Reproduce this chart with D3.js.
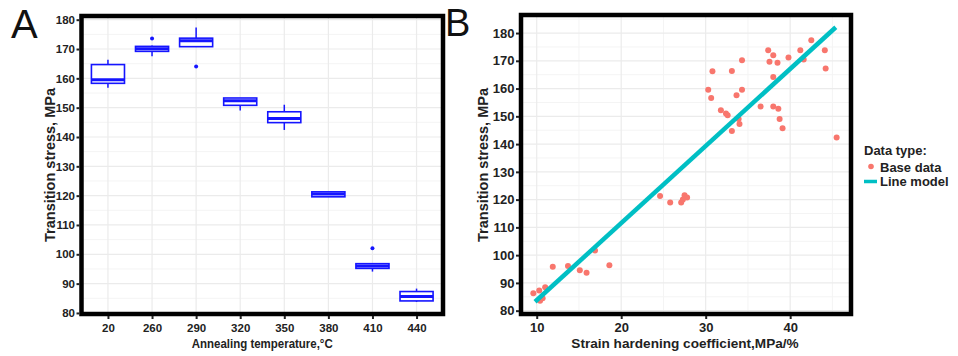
<!DOCTYPE html>
<html><head><meta charset="utf-8">
<script src="https://cdn.jsdelivr.net/npm/d3@7"></script>
<style>
html,body{margin:0;padding:0;background:#fff;}
svg{display:block;font-family:"Liberation Sans",Arial,sans-serif;}
</style></head>
<body>
<script>
// ---------- Panel A data (boxplot summaries) ----------
const tempCategories = ["20","260","290","320","350","380","410","440"];
const boxLower  = [156.8, 167.5, 170.8, 149.0, 142.4, 119.6, 94.1, 83.8];
const boxQ1     = [158.3, 169.2, 170.8, 150.8, 144.9, 119.6, 95.2, 84.1];
const boxMedian = [159.5, 170.1, 172.8, 152.4, 146.3, 120.6, 96.0, 85.6];
const boxQ3     = [164.7, 170.9, 173.7, 153.3, 148.6, 121.3, 96.8, 87.3];
const boxUpper  = [166.3, 171.2, 177.3, 153.3, 151.0, 121.3, 96.8, 88.3];
const outlierCat = ["260","290","410"];
const outlierVal = [173.6, 164.0, 102.1];
const yTicksA = [80,90,100,110,120,130,140,150,160,170,180];

// ---------- Panel B data ----------
const baseX = [30.3,30.65,30.8,31.8,32.4,32.6,33.1,33.1,33.65,33.9,34.0,34.3,34.3,36.5,37.4,37.55,38.0,38.0,38.0,38.5,38.6,38.75,39.1,39.8,41.2,41.6,42.5,44.1,44.2,45.5,
  9.6,10.3,11.0,10.4,10.7,11.9,13.7,15.1,15.9,16.9,18.6,24.6,25.8,27.1,27.5,27.8,27.3];
const baseY = [159.6,156.6,166.2,152.2,151.0,150.4,166.3,144.7,157.6,149.0,147.2,159.6,170.2,153.5,173.8,169.7,172.0,164.2,153.5,169.3,152.7,149.0,145.7,171.2,173.8,170.5,177.4,173.8,167.2,142.4,
  86.3,87.3,88.4,83.6,84.5,95.8,96.1,94.6,93.7,101.7,96.4,121.3,119.0,119.0,121.6,120.8,120.0];
const lineX = [9.8, 45.4];
const lineY = [83.2, 182.1];
const xTicksB = [10,20,30,40];
const yTicksB = [80,90,100,110,120,130,140,150,160,170,180];

const W = 958, H = 356;
const svg = d3.select("body").append("svg").attr("width", W).attr("height", H);

const gridMajor = "#ebebeb", gridMinor = "#f4f4f4";
const txt = "#222";

// ================= Panel A =================
const A = {l:81.5, r:443, t:16, b:314};
const xA = d3.scalePoint().domain(tempCategories).range([A.l, A.r]).padding(0.6);
const yA = d3.scaleLinear().domain([79.3, 181.6]).range([315, 15]);
const gA = svg.append("g");

d3.range(85, 181, 10).forEach(v => {
  gA.append("line").attr("x1",A.l).attr("x2",A.r).attr("y1",yA(v)).attr("y2",yA(v))
    .attr("stroke",gridMinor).attr("stroke-width",1);
});
yTicksA.forEach(v => {
  gA.append("line").attr("x1",A.l).attr("x2",A.r).attr("y1",yA(v)).attr("y2",yA(v))
    .attr("stroke",gridMajor).attr("stroke-width",1.2);
});
tempCategories.forEach(c => {
  gA.append("line").attr("x1",xA(c)).attr("x2",xA(c)).attr("y1",A.t).attr("y2",A.b)
    .attr("stroke",gridMajor).attr("stroke-width",1.2);
});

const bw = xA.step()*0.75;
const blue = "#1515ff";
tempCategories.forEach((c,i) => {
  const cx = xA(c);
  gA.append("line").attr("x1",cx).attr("x2",cx).attr("y1",yA(boxUpper[i])).attr("y2",yA(boxQ3[i]))
    .attr("stroke",blue).attr("stroke-width",1.5);
  gA.append("line").attr("x1",cx).attr("x2",cx).attr("y1",yA(boxQ1[i])).attr("y2",yA(boxLower[i]))
    .attr("stroke",blue).attr("stroke-width",1.5);
  gA.append("rect").attr("x",cx-bw/2).attr("width",bw)
    .attr("y",yA(boxQ3[i])).attr("height",Math.max(0.5,yA(boxQ1[i])-yA(boxQ3[i])))
    .attr("fill","#fff").attr("stroke",blue).attr("stroke-width",1.6);
  gA.append("line").attr("x1",cx-bw/2).attr("x2",cx+bw/2).attr("y1",yA(boxMedian[i])).attr("y2",yA(boxMedian[i]))
    .attr("stroke",blue).attr("stroke-width",3);
});
outlierCat.forEach((c,i) => {
  gA.append("circle").attr("cx",xA(c)).attr("cy",yA(outlierVal[i])).attr("r",2).attr("fill",blue);
});

gA.append("rect").attr("x",A.l).attr("y",A.t).attr("width",A.r-A.l).attr("height",A.b-A.t)
  .attr("fill","none").attr("stroke","#000").attr("stroke-width",4.5);

function styleAxis(ax, size) {
  ax.select(".domain").remove();
  ax.selectAll(".tick line").attr("stroke",txt).attr("stroke-width",2);
  ax.selectAll(".tick text").attr("fill",txt).style("font-size",size).style("font-weight","bold")
    .style("font-family","'Liberation Sans',Arial,sans-serif");
}
const axYA = gA.append("g").attr("transform",`translate(${A.l-2},0)`)
  .call(d3.axisLeft(yA).tickValues(yTicksA).tickSize(3).tickPadding(1.5));
const axXA = gA.append("g").attr("transform",`translate(0,${A.b+2})`)
  .call(d3.axisBottom(xA).tickSize(3).tickPadding(4.5));
styleAxis(axYA, "11.5px"); styleAxis(axXA, "11.5px");

gA.append("text").attr("transform",`translate(55,165) rotate(-90)`).attr("text-anchor","middle")
  .style("font-size","14.5px").style("font-weight","bold").attr("fill",txt).text("Transition stress, MPa");
gA.append("text").attr("x",(A.l+A.r)/2).attr("y",348).attr("text-anchor","middle")
  .attr("textLength",141).attr("lengthAdjust","spacingAndGlyphs")
  .style("font-size","13px").style("font-weight","bold").attr("fill",txt).text("Annealing temperature,°C");
svg.append("text").attr("x",11).attr("y",38).style("font-size","40px").attr("fill","#111").text("A");

// ================= Panel B =================
const B = {l:521, r:851, t:15, b:314};
const xB = d3.scaleLinear().domain([8.14, 47.2]).range([B.l, B.r]);
const yB = d3.scaleLinear().domain([78.8, 186.5]).range([B.b, B.t]);
const gB = svg.append("g");

[15,25,35,45].forEach(v => {
  gB.append("line").attr("x1",xB(v)).attr("x2",xB(v)).attr("y1",B.t).attr("y2",B.b)
    .attr("stroke",gridMinor).attr("stroke-width",1);
});
d3.range(85, 186, 10).forEach(v => {
  gB.append("line").attr("x1",B.l).attr("x2",B.r).attr("y1",yB(v)).attr("y2",yB(v))
    .attr("stroke",gridMinor).attr("stroke-width",1);
});
xTicksB.forEach(v => {
  gB.append("line").attr("x1",xB(v)).attr("x2",xB(v)).attr("y1",B.t).attr("y2",B.b)
    .attr("stroke",gridMajor).attr("stroke-width",1.2);
});
yTicksB.forEach(v => {
  gB.append("line").attr("x1",B.l).attr("x2",B.r).attr("y1",yB(v)).attr("y2",yB(v))
    .attr("stroke",gridMajor).attr("stroke-width",1.2);
});

const pts = baseX.map((x,i)=>({x, y: baseY[i]}));
gB.selectAll("circle.pt").data(pts).enter().append("circle").attr("class","pt")
  .attr("cx",d=>xB(d.x)).attr("cy",d=>yB(d.y)).attr("r",3).attr("fill","#F8766D");

gB.append("line").attr("x1",xB(lineX[0])).attr("y1",yB(lineY[0]))
  .attr("x2",xB(lineX[1])).attr("y2",yB(lineY[1]))
  .attr("stroke","#00BFC4").attr("stroke-width",4.5);

gB.append("rect").attr("x",B.l).attr("y",B.t).attr("width",B.r-B.l).attr("height",B.b-B.t)
  .attr("fill","none").attr("stroke","#000").attr("stroke-width",4.5);

const axYB = gB.append("g").attr("transform",`translate(${B.l-2},0)`)
  .call(d3.axisLeft(yB).tickValues(yTicksB).tickSize(3).tickPadding(1.5));
const axXB = gB.append("g").attr("transform",`translate(0,${B.b+2})`)
  .call(d3.axisBottom(xB).tickValues(xTicksB).tickSize(3).tickPadding(4));
styleAxis(axYB, "13px"); styleAxis(axXB, "13px");

gB.append("text").attr("transform",`translate(488,165) rotate(-90)`).attr("text-anchor","middle")
  .style("font-size","14.5px").style("font-weight","bold").attr("fill",txt).text("Transition stress, MPa");
gB.append("text").attr("x",685).attr("y",348).attr("text-anchor","middle")
  .style("font-size","13.6px").style("font-weight","bold").attr("fill",txt).text("Strain hardening coefficient,MPa/%");
svg.append("text").attr("x",445).attr("y",36).style("font-size","38px").attr("fill","#111").text("B");

// legend
const lg = svg.append("g");
lg.append("text").attr("x",864).attr("y",155).style("font-size","13px").style("font-weight","bold")
  .attr("fill",txt).text("Data type:");
lg.append("circle").attr("cx",871).attr("cy",166.5).attr("r",2.8).attr("fill","#F8766D");
lg.append("text").attr("x",880).attr("y",171.5).style("font-size","13px").style("font-weight","bold")
  .attr("fill",txt).text("Base data");
lg.append("line").attr("x1",864).attr("x2",877).attr("y1",181.5).attr("y2",181.5)
  .attr("stroke","#00BFC4").attr("stroke-width",3.5);
lg.append("text").attr("x",880).attr("y",186).style("font-size","13px").style("font-weight","bold")
  .attr("fill",txt).text("Line model");
</script>
</body></html>
